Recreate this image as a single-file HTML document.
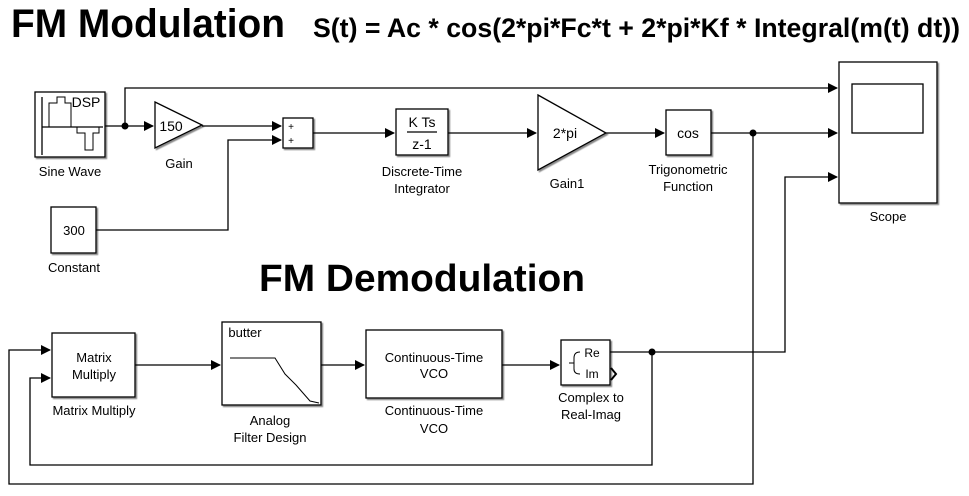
<!DOCTYPE html>
<html><head><style>body{margin:0;background:#fff}svg{display:block}</style></head><body>
<svg width="969" height="496" viewBox="0 0 969 496" xmlns="http://www.w3.org/2000/svg" font-family="Liberation Sans, sans-serif">
<defs><marker id="a" markerWidth="10" markerHeight="10" refX="9" refY="5" orient="auto" markerUnits="userSpaceOnUse"><path d="M0,0 L10,5 L0,10 Z" fill="#000"/></marker>
<filter id="s"><feDropShadow dx="1.5" dy="1.5" stdDeviation="0.6" flood-color="#888"/></filter></defs>
<rect width="969" height="496" fill="#fff"/>
<text x="11" y="37" font-size="40" font-weight="bold" textLength="274" lengthAdjust="spacingAndGlyphs">FM Modulation</text>
<text x="313" y="37" font-size="27" font-weight="bold" textLength="647" lengthAdjust="spacingAndGlyphs">S(t) = Ac * cos(2*pi*Fc*t + 2*pi*Kf * Integral(m(t) dt))</text>
<text x="259" y="291" font-size="38" font-weight="bold" textLength="326" lengthAdjust="spacingAndGlyphs">FM Demodulation</text>
<g fill="none" stroke="#000" stroke-width="1.3">
<rect x="35" y="92" width="70" height="65" fill="#fff" filter="url(#s)"/>
<polyline points="42,97 42,155" /><polyline points="42,127 103,127"/>
<polyline points="49,127 49,103 57,103 57,97 65,97 65,103 71,103 71,127 77,127 77,133 85,133 85,150 93,150 93,133 99,133 99,127" stroke-width="1"/>
<polygon points="155,102 202,125 155,148" fill="#fff" filter="url(#s)"/>
<rect x="283" y="118" width="30" height="30" fill="#fff" filter="url(#s)"/>
<rect x="51" y="207" width="45" height="46" fill="#fff" filter="url(#s)"/>
<rect x="396" y="109" width="52" height="46" fill="#fff" filter="url(#s)"/>
<line x1="407" y1="132" x2="437" y2="132"/>
<polygon points="538,95 606,133 538,170" fill="#fff" filter="url(#s)"/>
<rect x="666" y="110" width="45" height="45" fill="#fff" filter="url(#s)"/>
<rect x="839" y="62" width="98" height="141" fill="#fff" filter="url(#s)"/>
<rect x="852" y="84" width="71" height="49"/>
<rect x="52" y="333" width="83" height="64" fill="#fff" filter="url(#s)"/>
<rect x="222" y="322" width="99" height="83" fill="#fff" filter="url(#s)"/>
<polyline points="230,358 275,358 285,374 296,385 310,401 319,403" stroke-width="1"/>
<rect x="366" y="330" width="136" height="68" fill="#fff" filter="url(#s)"/>
<rect x="561" y="340" width="49" height="45" fill="#fff" filter="url(#s)"/>
<path d="M580,352 Q574,352 574,358 L574,363 L569,363 M574,363 L574,369 Q574,374 580,374" stroke-width="1"/>
<polyline points="611,368 616,374 611,380" stroke-width="2"/>
<polyline points="105,126 153,126" marker-end="url(#a)"/>
<polyline points="125,126 125,88 837,88" marker-end="url(#a)"/>
<polyline points="202,126 281,126" marker-end="url(#a)"/>
<polyline points="96,230 228,230 228,140 281,140" marker-end="url(#a)"/>
<polyline points="313,133 394,133" marker-end="url(#a)"/>
<polyline points="448,133 536,133" marker-end="url(#a)"/>
<polyline points="606,133 664,133" marker-end="url(#a)"/>
<polyline points="711,133 837,133" marker-end="url(#a)"/>
<polyline points="753,133 753,484 9,484 9,350 50,350" marker-end="url(#a)"/>
<polyline points="610,352 785,352 785,177 837,177" marker-end="url(#a)"/>
<polyline points="652,352 652,465 30,465 30,378 50,378" marker-end="url(#a)"/>
<polyline points="135,365 220,365" marker-end="url(#a)"/>
<polyline points="321,365 364,365" marker-end="url(#a)"/>
<polyline points="502,365 559,365" marker-end="url(#a)"/>
</g>
<g fill="#000"><circle cx="125" cy="126" r="3.5"/><circle cx="753" cy="133" r="3.5"/><circle cx="652" cy="352" r="3.5"/></g>
<g font-size="13" text-anchor="middle">
<text x="70" y="176">Sine Wave</text>
<text x="86" y="107" font-size="14">DSP</text>
<text x="171" y="131" font-size="14">150</text>
<text x="179" y="168">Gain</text>
<text x="291" y="130" font-size="10">+</text><text x="291" y="144" font-size="10">+</text>
<text x="74" y="235" font-size="13">300</text>
<text x="74" y="272">Constant</text>
<text x="422" y="127" font-size="14">K Ts</text><text x="422" y="149" font-size="14">z-1</text>
<text x="422" y="176">Discrete-Time</text><text x="422" y="193">Integrator</text>
<text x="565" y="138" font-size="14">2*pi</text>
<text x="567" y="188">Gain1</text>
<text x="688" y="138" font-size="14">cos</text>
<text x="688" y="174">Trigonometric</text><text x="688" y="191">Function</text>
<text x="888" y="221">Scope</text>
<text x="94" y="362">Matrix</text><text x="94" y="379">Multiply</text>
<text x="94" y="415">Matrix Multiply</text>
<text x="245" y="337" font-size="13">butter</text>
<text x="270" y="425">Analog</text><text x="270" y="442">Filter Design</text>
<text x="434" y="362">Continuous-Time</text><text x="434" y="378">VCO</text>
<text x="434" y="415">Continuous-Time</text><text x="434" y="433">VCO</text>
<text x="592" y="357" font-size="12">Re</text><text x="592" y="378" font-size="12">Im</text>
<text x="591" y="402">Complex to</text><text x="591" y="419">Real-Imag</text>
</g>
</svg>
</body></html>
